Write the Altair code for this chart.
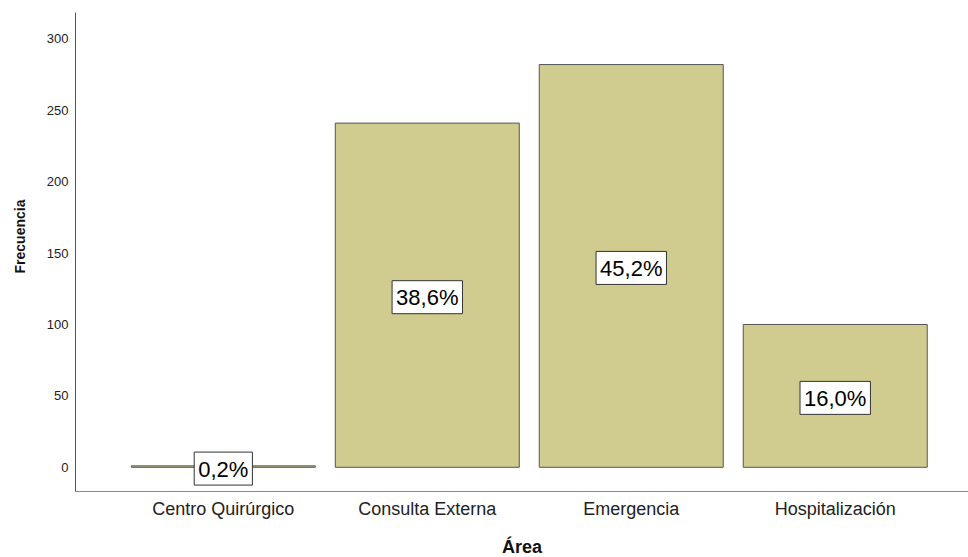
import altair as alt
import pandas as pd

# Frequency of records per hospital area
areas = ["Centro Quirúrgico", "Consulta Externa", "Emergencia", "Hospitalización"]
counts = [1, 241, 282, 100]

total = sum(counts)
pct_labels = [f"{c / total * 100:.1f}%".replace(".", ",") for c in counts]

# Approximate text widths (Arial metrics, 22px) to size the label boxes
FONT = "Liberation Sans"
LABEL_SIZE = 22
CHAR_EM = {",": 0.278, "%": 0.889}


def text_width(s):
    return sum(CHAR_EM.get(ch, 0.556) for ch in s) * LABEL_SIZE


def box_path(s, pad=4, h=33):
    w = text_width(s) + 2 * pad
    return f"M{-w/2:.1f},{-h/2:.1f}H{w/2:.1f}V{h/2:.1f}H{-w/2:.1f}Z"


df = pd.DataFrame({
    "area": areas,
    "freq": counts,
    "mid": [c / 2 for c in counts],
    "label": pct_labels,
    "box": [box_path(s) for s in pct_labels],
})

x_enc = alt.X(
    "area:N",
    sort=None,
    title="Área",
    scale=alt.Scale(paddingInner=0.098, paddingOuter=0.238, align=0.58),
    axis=alt.Axis(
        labelAngle=0,
        labelFontSize=18,
        labelColor="#222222",
        labelPadding=9,
        ticks=False,
        domainColor="#8a8a8a",
        titleFontSize=18,
        titleFontWeight="bold",
        titleColor="#111111",
        titlePadding=20,
    ),
)

y_scale = alt.Scale(domain=[-16.6, 318.8], nice=False, zero=False)

bars = alt.Chart(df).mark_bar(
    fill="#D0CB8F", stroke="#555555", strokeWidth=1
).encode(
    x=x_enc,
    y=alt.Y(
        "freq:Q",
        scale=y_scale,
        title="Frecuencia",
        axis=alt.Axis(
            values=[0, 50, 100, 150, 200, 250, 300],
            grid=False,
            ticks=False,
            labelFontSize=13,
            labelColor="#222222",
            labelPadding=7,
            domainColor="#555555",
            titleFontSize=14,
            titleFontWeight="bold",
            titleColor="#111111",
            titleX=-55,
            titleY=224,
            titleBaseline="middle",
            titleAlign="center",
        ),
    ),
    y2=alt.Y2(datum=0),
)

boxes = alt.Chart(df).mark_point(
    filled=True, fill="white", stroke="#333333", strokeWidth=1,
    opacity=1, size=4, yOffset=2,
).encode(
    x=alt.X("area:N", sort=None),
    y=alt.Y("mid:Q", scale=y_scale),
    shape=alt.Shape("box:N", scale=None, legend=None),
)

texts = alt.Chart(df).mark_text(
    font=FONT, fontSize=LABEL_SIZE, color="#000000",
    baseline="middle", align="center", yOffset=3,
).encode(
    x=alt.X("area:N", sort=None),
    y=alt.Y("mid:Q", scale=y_scale),
    text="label:N",
)

chart = alt.layer(bars, boxes, texts).properties(
    width=893,
    height=479,
    padding={"left": 75, "top": 12, "right": 0, "bottom": 66},
    autosize=alt.AutoSizeParams(type="none"),
).configure(
    font=FONT,
).configure_view(
    stroke=None,
).configure_axis(
    labelFont=FONT,
    titleFont=FONT,
)

chart.save("out.html", embed_options={"renderer": "svg", "actions": False})
